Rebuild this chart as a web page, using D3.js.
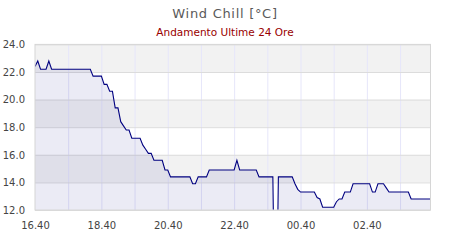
<!DOCTYPE html>
<html>
<head>
<meta charset="utf-8">
<script src="https://cdn.jsdelivr.net/npm/d3@7"></script>
<style>
    html, body { margin: 0; padding: 0; background: #fff; }
    #viz-wind-chill { width: 450px; height: 240px; }
    text { font-family: 'DejaVu Sans', sans-serif; }
</style>
</head>
<body>
<div id="viz-wind-chill"></div>
<script>
// Readings (time of day, degrees C) - only the points where the trace changes
const times = [
    '16:40', '16:45', '16:50', '17:00', '17:05', '17:10', '18:20', '18:25', '18:40', '18:45',
    '18:50', '18:55', '19:00', '19:05', '19:10', '19:15', '19:20', '19:25', '19:30', '19:35',
    '19:50', '19:55', '20:00', '20:05', '20:10', '20:15', '20:30', '20:35', '20:40', '20:45',
    '21:20', '21:25', '21:30', '21:35', '21:50', '21:55', '22:40', '22:45', '22:50', '23:20',
    '23:25', '23:50', '23:55', '00:00', '00:25', '00:30', '00:35', '00:40', '01:05', '01:10',
    '01:15', '01:20', '01:40', '01:45', '01:50', '01:55', '02:00', '02:10', '02:15', '02:45',
    '02:50', '02:55', '03:00', '03:10', '03:15', '03:20', '03:55', '04:00', '04:35'
];
const windChill = [
    22.4, 22.8, 22.2, 22.2, 22.8, 22.2, 22.2, 21.7, 21.7, 21.1,
    21.1, 20.6, 20.6, 19.4, 19.4, 18.4, 18.1, 17.8, 17.8, 17.2,
    17.2, 16.7, 16.4, 16.1, 16.1, 15.6, 15.6, 14.9, 14.9, 14.4,
    14.4, 13.9, 13.9, 14.4, 14.4, 14.9, 14.9, 15.6, 14.9, 14.9,
    14.4, 14.4, 0.0, 14.4, 14.4, 13.9, 13.5, 13.3, 13.3, 12.9,
    12.8, 12.2, 12.2, 12.6, 12.8, 12.8, 13.3, 13.3, 13.9, 13.9,
    13.3, 13.3, 13.9, 13.9, 13.6, 13.3, 13.3, 12.8, 12.8
];

const xTickLabels = ['16.40', '18.40', '20.40', '22.40', '00.40', '02.40'];
const yTicks = [12, 14, 16, 18, 20, 22, 24];
const shadedBands = [[22, 24], [18, 20], [14, 16]];

// times after midnight belong to the next day
function toDate(hhmm) {
    const [h, m] = hhmm.split(/[:.]/).map(Number);
    return new Date(2024, 0, h < 12 ? 2 : 1, h, m);
}

function createWindChillChart() {
    const container = d3.select('#viz-wind-chill');
    container.selectAll('*').remove();

    const svg = container.append('svg')
        .attr('width', 450)
        .attr('height', 240);

    const plot = { left: 35, right: 430.5, top: 44.4, bottom: 210 };

    const data = times.map((t, i) => ({ date: toDate(t), value: windChill[i] }));

    const xScale = d3.scaleTime()
        .domain([toDate('16:40'), toDate('04:35')])
        .range([plot.left, plot.right]);

    const yScale = d3.scaleLinear()
        .domain([12, 24])
        .range([plot.bottom, plot.top]);

    // Title + subtitle
    svg.append('text')
        .attr('x', 225)
        .attr('y', 17.5)
        .attr('text-anchor', 'middle')
        .style('font-size', '13px')
        .style('letter-spacing', '0.7px')
        .style('fill', '#5a5a5a')
        .text('Wind Chill [°C]');

    svg.append('text')
        .attr('x', 225)
        .attr('y', 35.5)
        .attr('text-anchor', 'middle')
        .style('font-size', '10.5px')
        .style('fill', '#990000')
        .text('Andamento Ultime 24 Ore');

    // Alternating background bands
    svg.append('g')
        .selectAll('rect')
        .data(shadedBands)
        .enter()
        .append('rect')
        .attr('x', plot.left)
        .attr('width', plot.right - plot.left)
        .attr('y', d => yScale(d[1]))
        .attr('height', d => yScale(d[0]) - yScale(d[1]))
        .attr('fill', '#f2f2f2');

    // Vertical grid, one line per hour
    const hourTicks = d3.range(0, 12).map(h => d3.timeMinute.offset(toDate('16:40'), h * 60));
    svg.append('g')
        .attr('transform', `translate(0, ${plot.bottom})`)
        .call(d3.axisBottom(xScale)
            .tickValues(hourTicks.slice(1))
            .tickSize(-(plot.bottom - plot.top))
            .tickFormat(''))
        .call(g => g.select('.domain').remove())
        .call(g => g.selectAll('line').attr('stroke', '#e6e6fa'));

    // Horizontal grid
    svg.append('g')
        .attr('transform', `translate(${plot.left}, 0)`)
        .call(d3.axisLeft(yScale)
            .tickValues(yTicks)
            .tickSize(-(plot.right - plot.left))
            .tickFormat(''))
        .call(g => g.select('.domain').remove())
        .call(g => g.selectAll('line').attr('stroke', '#dcdcdc'));

    // Area + line, clipped to the plot
    svg.append('clipPath')
        .attr('id', 'wc-clip')
        .append('rect')
        .attr('x', plot.left)
        .attr('y', plot.top)
        .attr('width', plot.right - plot.left)
        .attr('height', plot.bottom - plot.top);

    const area = d3.area()
        .x(d => xScale(d.date))
        .y0(yScale(12))
        .y1(d => yScale(d.value));

    const line = d3.line()
        .x(d => xScale(d.date))
        .y(d => yScale(d.value));

    const series = svg.append('g').attr('clip-path', 'url(#wc-clip)');

    series.append('path')
        .datum(data)
        .attr('d', area)
        .attr('fill', 'rgba(0, 0, 128, 0.08)');

    series.append('path')
        .datum(data)
        .attr('d', line)
        .attr('fill', 'none')
        .attr('stroke', '#000080')
        .attr('stroke-width', 1.1);

    // Plot frame
    svg.append('rect')
        .attr('x', plot.left)
        .attr('y', plot.top)
        .attr('width', plot.right - plot.left)
        .attr('height', plot.bottom - plot.top)
        .attr('fill', 'none')
        .attr('stroke', '#d6d6d6');

    // Axis labels
    svg.append('g')
        .attr('transform', `translate(${plot.left - 7}, 0)`)
        .call(d3.axisLeft(yScale).tickValues(yTicks).tickSize(0).tickFormat(d3.format('.1f')))
        .call(g => g.select('.domain').remove())
        .call(g => g.selectAll('text')
            .style('font-family', "'DejaVu Sans', sans-serif")
            .style('font-size', '10px')
            .attr('fill', '#444'));

    svg.append('g')
        .attr('transform', `translate(0, ${plot.bottom + 9})`)
        .call(d3.axisBottom(xScale)
            .tickValues(xTickLabels.map(toDate))
            .tickSize(0)
            .tickFormat((d, i) => xTickLabels[i]))
        .call(g => g.select('.domain').remove())
        .call(g => g.selectAll('text')
            .style('font-family', "'DejaVu Sans', sans-serif")
            .style('font-size', '10px')
            .attr('fill', '#444'));
}

createWindChillChart();
</script>
</body>
</html>
